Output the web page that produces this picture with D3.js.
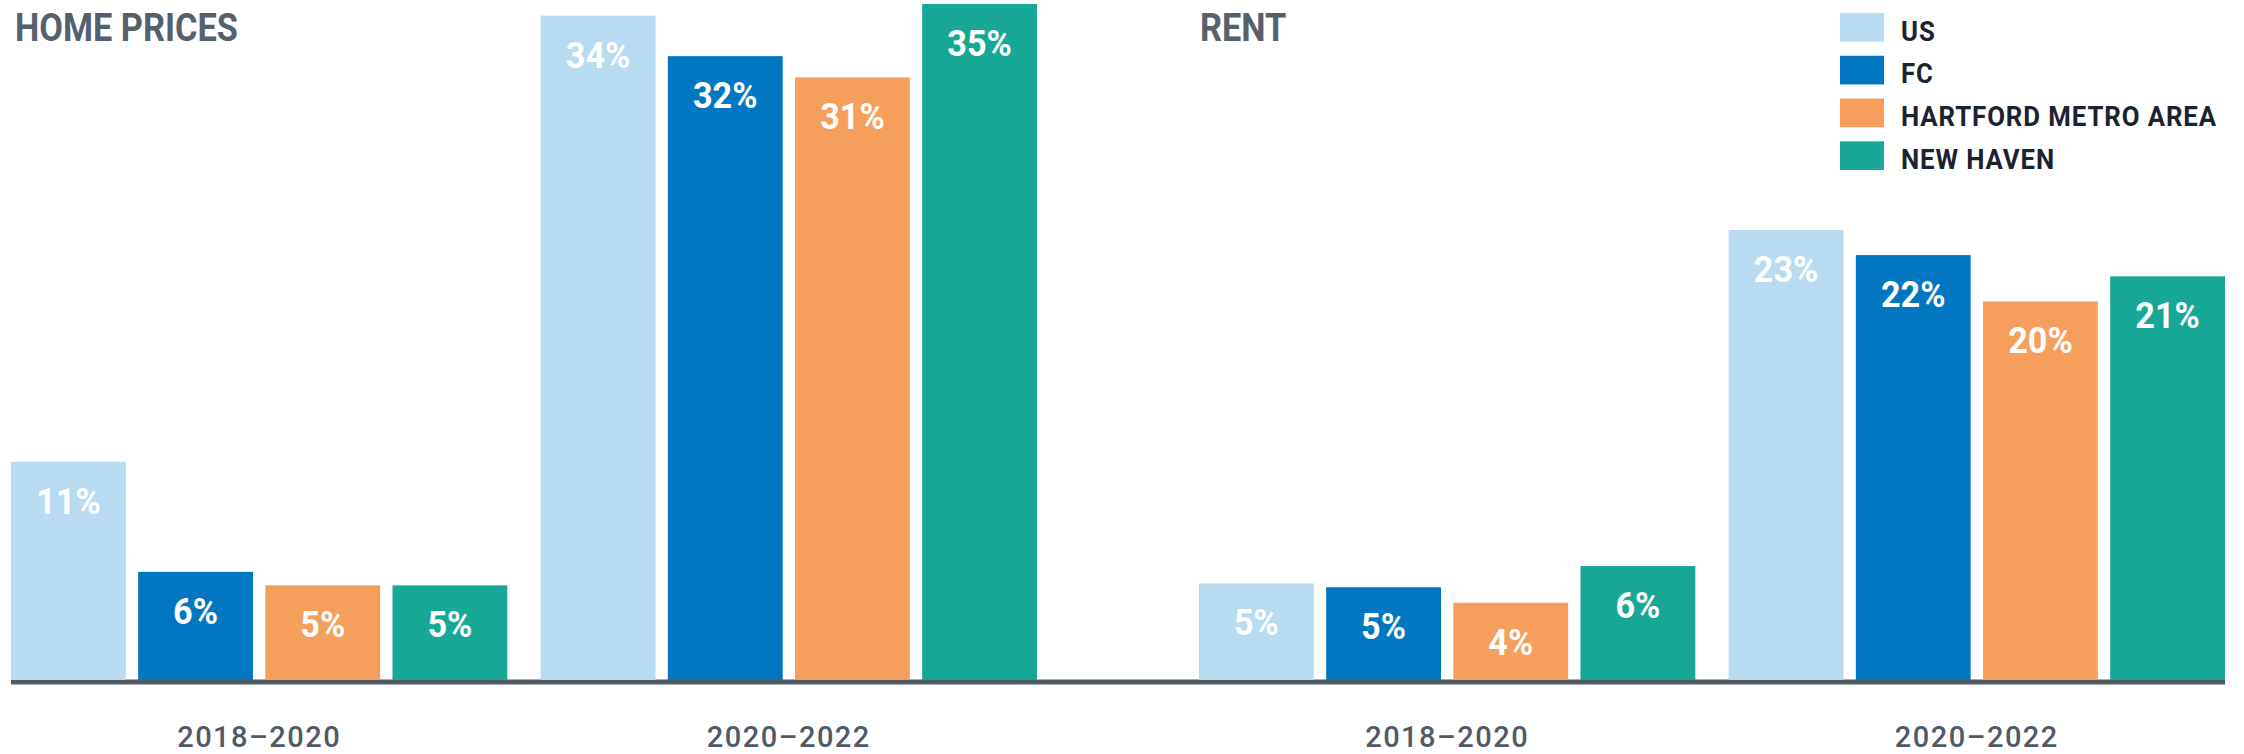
<!DOCTYPE html>
<html>
<head>
<meta charset="utf-8">
<script src="https://cdn.jsdelivr.net/npm/d3@7"></script>
<style>
  html, body { margin: 0; padding: 0; background: #fff; }
  svg { display: block; font-family: Roboto, "Open Sans", sans-serif; }
</style>
</head>
<body>
<div id="chart"></div>
<script>
// data (bar heights), labels shown rounded
const series = ["US", "FC", "HARTFORD METRO AREA", "NEW HAVEN"];
const periods = ["2018\u20132020", "2020\u20132022"];
const homePrices2018 = [11.3, 5.6, 4.9, 4.9];
const homePrices2020 = [34.4, 32.3, 31.2, 35.0];
const rent2018 = [5.0, 4.8, 4.0, 5.9];
const rent2020 = [23.3, 22.0, 19.6, 20.9];

const colors = ["#b8dbf2", "#0077c0", "#f69f5d", "#17a895"];

const W = 2244, H = 754;
const baseY = 680;
const panelW = 1026;

const svg = d3.select("#chart").append("svg")
    .attr("width", W)
    .attr("height", H);

const color = d3.scaleOrdinal().domain(series).range(colors);

const y = d3.scaleLinear()
    .domain([0, 35])
    .range([baseY, 4]);

const fmt = d => d3.format(".0f")(d) + "%";

// squeeze text horizontally, there is no condensed face installed
function condense(sel, k) {
    sel.each(function () {
        const w = this.getComputedTextLength();
        d3.select(this)
            .attr("textLength", w * k)
            .attr("lengthAdjust", "spacingAndGlyphs");
    });
}

const panels = [
    {title: "HOME PRICES", x0: 11, titleX: 15, rows: [homePrices2018, homePrices2020]},
    {title: "RENT", x0: 1199, titleX: 1200, rows: [rent2018, rent2020]}
];

// baseline across both panels
svg.append("line")
    .attr("x1", 11)
    .attr("x2", 1199 + panelW)
    .attr("y1", baseY + 2)
    .attr("y2", baseY + 2)
    .attr("stroke", "#4f5a66")
    .attr("stroke-width", 5);

panels.forEach(p => {
    const g = svg.append("g");

    const x0 = d3.scaleBand()
        .domain(periods)
        .range([p.x0, p.x0 + panelW])
        .paddingInner(0.063);

    const x1 = d3.scaleBand()
        .domain(series)
        .range([0, x0.bandwidth()])
        .paddingInner(0.097);

    const groups = g.selectAll(".grp")
        .data(periods.map((k, i) => ({period: k, values: p.rows[i]})))
        .enter()
        .append("g")
        .attr("class", "grp")
        .attr("transform", d => "translate(" + x0(d.period) + ",0)");

    const bars = groups.selectAll(".bar")
        .data(d => d.values.map((v, i) => ({key: series[i], value: v})))
        .enter();

    bars.append("rect")
        .attr("x", d => x1(d.key))
        .attr("y", d => y(d.value))
        .attr("width", x1.bandwidth())
        .attr("height", d => baseY - y(d.value))
        .attr("fill", d => color(d.key));

    bars.append("text")
        .attr("x", d => x1(d.key) + x1.bandwidth() / 2)
        .attr("y", d => y(d.value) + 52)
        .attr("text-anchor", "middle")
        .attr("fill", "#fff")
        .attr("font-size", 36)
        .attr("font-weight", 700)
        .text(d => fmt(d.value))
        .call(condense, 0.95);

    // period labels under the axis
    g.selectAll(".period")
        .data(periods)
        .enter()
        .append("text")
        .attr("x", d => x0(d) + x0.bandwidth() / 2)
        .attr("y", 747)
        .attr("text-anchor", "middle")
        .attr("fill", "#4f5a66")
        .attr("font-size", 29)
        .attr("font-weight", 500)
        .attr("letter-spacing", 1.5)
        .text(d => d);

    g.append("text")
        .attr("x", p.titleX)
        .attr("y", 41)
        .attr("fill", "#55606d")
        .attr("font-size", 39)
        .attr("font-weight", 700)
        .text(p.title)
        .call(condense, 0.88);
});

// legend
const rowY = d3.scaleBand()
    .domain(series)
    .range([13, 170])
    .paddingInner(0.33);

const legend = svg.append("g")
    .selectAll("g")
    .data(series)
    .enter()
    .append("g")
    .attr("transform", d => "translate(1840," + rowY(d) + ")");

legend.append("rect")
    .attr("width", 44)
    .attr("height", rowY.bandwidth())
    .attr("fill", d => color(d));

legend.append("text")
    .attr("x", 61)
    .attr("y", rowY.bandwidth() - 1)
    .attr("fill", "#1c2230")
    .attr("font-size", 28)
    .attr("font-weight", 700)
    .attr("letter-spacing", 1)
    .text(d => d)
    .call(condense, 0.92);
</script>
</body>
</html>
